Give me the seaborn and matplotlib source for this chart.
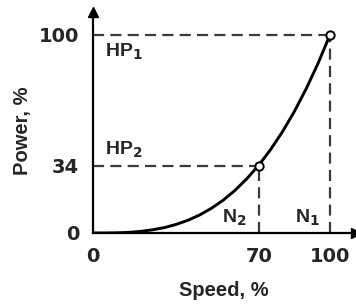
import matplotlib
matplotlib.use("Agg")
import matplotlib.pyplot as plt
import seaborn as sns
import pandas as pd

# Data
speed = [0, 5, 10, 15, 20, 25, 30, 35, 40, 45, 50, 55, 60, 65, 70, 75, 80, 85, 90, 95, 100]
power = [0, 0.01, 0.1, 0.3, 0.8, 1.6, 2.7, 4.3, 6.4, 9.1, 12.5, 16.6, 21.6, 27.5, 34.3,
         42.2, 51.2, 61.4, 72.9, 85.7, 100]
point_speed = [70, 100]
point_power = [34, 100]
x_ticks = [0, 70, 100]
y_ticks = [0, 34, 100]
labels = ["HP$_1$", "HP$_2$", "N$_2$", "N$_1$"]

sns.set_style("white")
plt.rcParams["font.family"] = ["Liberation Sans", "DejaVu Sans"]
plt.rcParams["font.weight"] = "bold"
plt.rcParams["mathtext.fontset"] = "custom"
plt.rcParams["mathtext.rm"] = "DejaVu Sans:bold"
plt.rcParams["mathtext.bf"] = "DejaVu Sans:bold"
plt.rcParams["mathtext.it"] = "DejaVu Sans:bold"
plt.rcParams["mathtext.default"] = "bf"

fig = plt.figure(figsize=(3.56, 3.04), dpi=100)
ax = fig.add_axes([93 / 356, (304 - 233) / 304, 263 / 356, 221 / 304])
ax.set_xlim(0, 111)
ax.set_ylim(0, 111.6)

df = pd.DataFrame({"speed": speed, "power": power})
dash_kw = dict(color="#3a3a3a", lw=1.6, dashes=(5, 2.8), zorder=2)
ax.plot([0, 100], [100, 100], **dash_kw)
ax.plot([0, 70], [34, 34], **dash_kw)
ax.plot([100, 100], [0, 100], **dash_kw)
ax.plot([70, 70], [0, 34], **dash_kw)

sns.lineplot(data=df, x="speed", y="power", ax=ax, color="black", lw=2.1, zorder=3)
sns.scatterplot(x=point_speed, y=point_power, ax=ax, s=36, facecolor="white",
                edgecolor="black", linewidth=1.4, zorder=4)

for s in ["top", "right"]:
    ax.spines[s].set_visible(False)
for s in ["left", "bottom"]:
    ax.spines[s].set_linewidth(1.6)
    ax.spines[s].set_color("black")
ax.plot(1, 0, ">k", transform=ax.get_yaxis_transform(), clip_on=False, ms=7)
ax.plot(0, 1, "^k", transform=ax.get_xaxis_transform(), clip_on=False, ms=7)

ax.set_xticks(x_ticks)
ax.set_yticks(y_ticks)
ax.tick_params(length=0, pad=10, labelsize=14)
for t in ax.get_xticklabels() + ax.get_yticklabels():
    t.set_fontweight("bold")
    t.set_family("DejaVu Sans")

ax.set_xlabel("Speed, %", fontsize=14.5, fontweight="bold")
ax.set_ylabel("Power, %", fontsize=14.5, fontweight="bold")
ax.xaxis.set_label_coords((224 - 93) / 263, -(290 - 233) / 221)
ax.xaxis.label.set_va("center")
ax.yaxis.set_label_coords(-(93 - 22) / 263, (233 - 131) / 221)
ax.yaxis.label.set_va("center")

fs = 14
ax.text(5, 88.9, labels[0], fontsize=fs, va="baseline")
ax.text(5, 39.4, labels[1], fontsize=fs, va="baseline")
ax.text(54.4, 5, labels[2], fontsize=fs, va="baseline")
ax.text(85.2, 5, labels[3], fontsize=fs, va="baseline")

fig.savefig("out.png", dpi=100)
